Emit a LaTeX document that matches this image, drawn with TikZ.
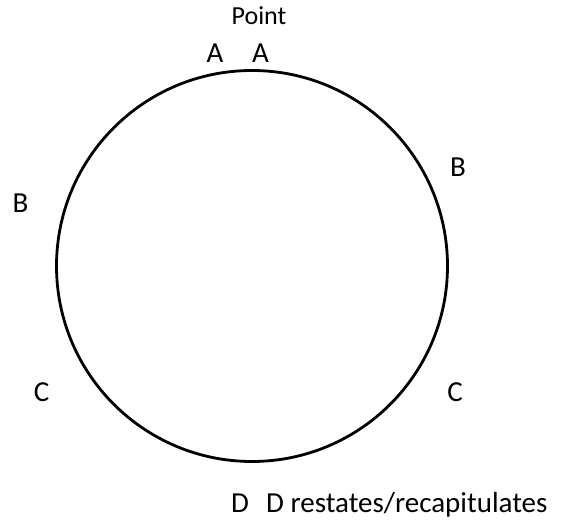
\documentclass[tikz,border=0pt]{standalone}
\usepackage{fontspec}
\setmainfont{Carlito}
\begin{document}
\begin{tikzpicture}[x=1pt,y=-1pt,
  lbl/.style={font=\fontsize{29}{33}\selectfont, inner sep=0pt, anchor=base},
  small/.style={font=\fontsize{26}{30}\selectfont, inner sep=0pt, anchor=base}]
\useasboundingbox (0,0) rectangle (568,521);
\node[draw, circle, line width=2.8pt, minimum size=391pt, inner sep=0pt] (circ) at (252,266) {};
\node[small] (point) at (259,25) {Point};
\node[lbl] (a1) at (215,63) {A};
\node[lbl] (a2) at (260.5,63) {A};
\node[lbl] (b1) at (458,177) {B};
\node[lbl] (b2) at (20.5,213) {B};
\node[lbl] (c1) at (41.5,402) {C};
\node[lbl] (c2) at (455,402) {C};
\node[lbl] (d1) at (240,512) {D};
\node[lbl, anchor=base west] (d2) at (266,512) {D restates/recapitulates};
\end{tikzpicture}
\end{document}
